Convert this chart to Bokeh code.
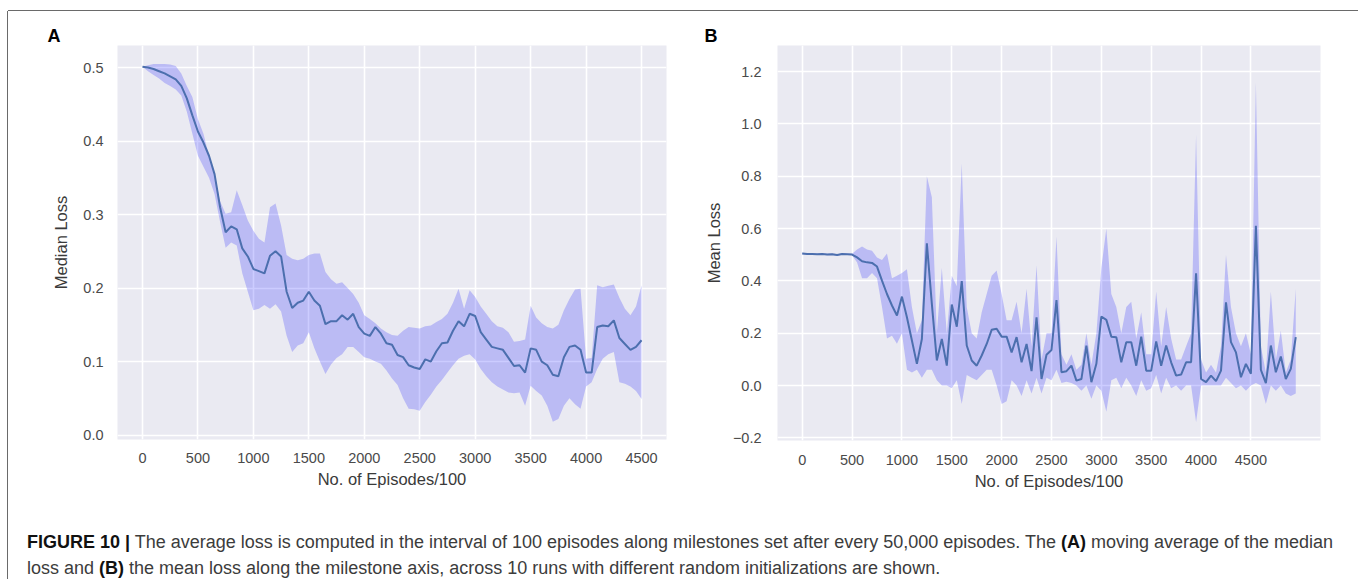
from bokeh.plotting import figure
from bokeh.models import Div, FixedTicker
from bokeh.layouts import column, row
from bokeh.embed import file_html
from bokeh.resources import INLINE

# ---- data -----------------------------------------------------------------
# Panel A: moving average of the median loss, sampled every 50 milestones
episodes_a = list(range(0, 4501, 50))
median_loss = [
    0.501, 0.500, 0.498, 0.495, 0.492, 0.488, 0.484, 0.475, 0.458, 0.435,
    0.413, 0.398, 0.380, 0.355, 0.310, 0.276, 0.284, 0.280, 0.254, 0.243,
    0.226, 0.223, 0.220, 0.244, 0.250, 0.243, 0.195, 0.173, 0.180, 0.183,
    0.195, 0.183, 0.176, 0.151, 0.155, 0.155, 0.163, 0.157, 0.165, 0.147,
    0.138, 0.135, 0.147, 0.138, 0.125, 0.123, 0.109, 0.106, 0.095, 0.092,
    0.090, 0.103, 0.100, 0.114, 0.125, 0.126, 0.142, 0.155, 0.148, 0.165,
    0.162, 0.140, 0.130, 0.120, 0.118, 0.116, 0.105, 0.094, 0.095, 0.085,
    0.118, 0.116, 0.100, 0.095, 0.082, 0.080, 0.106, 0.120, 0.122, 0.116,
    0.085, 0.085, 0.147, 0.149, 0.148, 0.156, 0.132, 0.124, 0.116, 0.120,
    0.129,
]
median_upper = [
    0.501, 0.503, 0.505, 0.505, 0.505, 0.504, 0.502, 0.492, 0.475, 0.460,
    0.430, 0.410, 0.380, 0.355, 0.318, 0.301, 0.303, 0.333, 0.313, 0.292,
    0.278, 0.267, 0.262, 0.310, 0.315, 0.285, 0.245, 0.240, 0.238, 0.240,
    0.245, 0.247, 0.247, 0.222, 0.212, 0.206, 0.208, 0.200, 0.192, 0.180,
    0.163, 0.158, 0.152, 0.145, 0.140, 0.136, 0.135, 0.142, 0.147, 0.146,
    0.145, 0.148, 0.149, 0.154, 0.158, 0.165, 0.180, 0.199, 0.172, 0.197,
    0.188, 0.175, 0.165, 0.155, 0.148, 0.146, 0.140, 0.127, 0.128, 0.130,
    0.176, 0.160, 0.152, 0.147, 0.145, 0.150, 0.170, 0.185, 0.198, 0.199,
    0.104, 0.105, 0.204, 0.201, 0.203, 0.205, 0.187, 0.172, 0.163, 0.175,
    0.204,
]
median_lower = [
    0.501, 0.495, 0.490, 0.485, 0.479, 0.475, 0.470, 0.462, 0.440, 0.410,
    0.380, 0.365, 0.350, 0.328, 0.290, 0.255, 0.262, 0.258, 0.220, 0.195,
    0.170, 0.172, 0.177, 0.172, 0.178, 0.168, 0.135, 0.113, 0.122, 0.125,
    0.140, 0.118, 0.100, 0.083, 0.096, 0.105, 0.110, 0.120, 0.120, 0.113,
    0.106, 0.104, 0.100, 0.097, 0.088, 0.077, 0.068, 0.050, 0.036, 0.035,
    0.033, 0.045, 0.055, 0.066, 0.075, 0.085, 0.095, 0.104, 0.108, 0.110,
    0.103, 0.090, 0.080, 0.072, 0.066, 0.062, 0.058, 0.057, 0.058, 0.040,
    0.067, 0.060, 0.054, 0.040, 0.018, 0.022, 0.040, 0.050, 0.042, 0.036,
    0.066, 0.072, 0.090, 0.104, 0.110, 0.113, 0.072, 0.070, 0.066, 0.060,
    0.049,
]

# Panel B: mean loss along the milestone axis
episodes_b = list(range(0, 4951, 50))
mean_loss = [
    0.505, 0.503, 0.503, 0.502, 0.503, 0.501, 0.502, 0.499, 0.503, 0.502,
    0.501, 0.490, 0.475, 0.471, 0.469, 0.455, 0.401, 0.350, 0.306, 0.268,
    0.340, 0.261, 0.172, 0.083, 0.178, 0.544, 0.312, 0.096, 0.178, 0.076,
    0.310, 0.225, 0.399, 0.153, 0.096, 0.076, 0.115, 0.159, 0.213, 0.217,
    0.187, 0.187, 0.127, 0.185, 0.089, 0.159, 0.055, 0.261, 0.025, 0.118,
    0.136, 0.327, 0.051, 0.055, 0.076, 0.019, 0.025, 0.153, 0.013, 0.083,
    0.264, 0.251, 0.187, 0.185, 0.089, 0.166, 0.166, 0.076, 0.187, 0.057,
    0.057, 0.169, 0.076, 0.153, 0.089, 0.038, 0.042, 0.089, 0.089, 0.429,
    0.025, 0.013, 0.038, 0.017, 0.057, 0.318, 0.166, 0.127, 0.032, 0.083,
    0.045, 0.611, 0.060, 0.009, 0.153, 0.051, 0.111, 0.025, 0.064, 0.185,
]
mean_upper = [
    0.508, 0.506, 0.506, 0.505, 0.506, 0.504, 0.505, 0.502, 0.506, 0.505,
    0.504, 0.520, 0.532, 0.520, 0.515, 0.490, 0.480, 0.505, 0.410, 0.420,
    0.430, 0.445, 0.300, 0.200, 0.250, 0.800, 0.720, 0.200, 0.450, 0.200,
    0.420, 0.380, 0.850, 0.300, 0.200, 0.180, 0.280, 0.350, 0.420, 0.440,
    0.350, 0.250, 0.250, 0.320, 0.200, 0.370, 0.150, 0.460, 0.100, 0.200,
    0.200, 0.570, 0.120, 0.080, 0.120, 0.060, 0.080, 0.200, 0.080, 0.200,
    0.450, 0.600, 0.350, 0.300, 0.200, 0.300, 0.320, 0.180, 0.280, 0.120,
    0.120, 0.360, 0.150, 0.300, 0.180, 0.100, 0.100, 0.150, 0.200, 0.960,
    0.100, 0.050, 0.080, 0.050, 0.150, 0.500, 0.300, 0.200, 0.150, 0.200,
    0.120, 1.160, 0.150, 0.050, 0.360, 0.100, 0.210, 0.050, 0.100, 0.370,
]
mean_lower = [
    0.502, 0.500, 0.500, 0.499, 0.500, 0.498, 0.499, 0.496, 0.500, 0.499,
    0.498, 0.470, 0.410, 0.410, 0.430, 0.410, 0.300, 0.180, 0.190, 0.160,
    0.200, 0.060, 0.050, 0.060, 0.030, 0.060, 0.060, 0.020, 0.000, 0.000,
    -0.010, 0.020, -0.070, 0.040, 0.030, 0.020, 0.040, 0.060, 0.060, 0.000,
    -0.070, -0.060, 0.020, 0.000, -0.040, 0.020, -0.030, 0.030, -0.030, 0.030,
    0.020, 0.060, 0.010, 0.015, 0.010, 0.000, -0.020, 0.000, -0.050, 0.000,
    -0.020, -0.100, 0.020, 0.030, -0.010, 0.030, 0.000, -0.040, 0.020, -0.020,
    -0.010, 0.040, -0.030, 0.030, -0.010, 0.000, -0.020, 0.000, 0.000, -0.140,
    0.000, 0.000, 0.000, 0.000, 0.000, 0.030, 0.010, -0.010, 0.000, -0.020,
    0.000, 0.010, 0.000, -0.070, 0.000, -0.020, 0.000, -0.030, -0.040, -0.030,
]

x_ticks = [0, 500, 1000, 1500, 2000, 2500, 3000, 3500, 4000, 4500]
y_ticks_a = [0.0, 0.1, 0.2, 0.3, 0.4, 0.5]
y_labels_a = ["0.0", "0.1", "0.2", "0.3", "0.4", "0.5"]
y_ticks_b = [-0.2, 0.0, 0.2, 0.4, 0.6, 0.8, 1.0, 1.2]
y_labels_b = ["\u22120.2", "0.0", "0.2", "0.4", "0.6", "0.8", "1.0", "1.2"]

FONT = "Liberation Sans"
BG = "#eaeaf2"
LINE = "#4c6fae"


def style(p, yticks, ylabels, xlabel, ylabel, ystand, xstand, panel, offset):
    p.background_fill_color = BG
    p.border_fill_color = "white"
    p.outline_line_color = None
    p.xgrid.ticker = FixedTicker(ticks=x_ticks)
    p.ygrid.ticker = FixedTicker(ticks=yticks)
    for g in (p.xgrid[0], p.ygrid[0]):
        g.grid_line_color = "white"
        g.grid_line_width = 1.6
    for ax in (p.xaxis[0], p.yaxis[0]):
        ax.axis_line_color = None
        ax.major_tick_line_color = None
        ax.minor_tick_line_color = None
        ax.major_tick_out = 0
        ax.major_tick_in = 0
        ax.major_label_text_font = FONT
        ax.major_label_text_font_size = "14.5px"
        ax.major_label_text_color = "#4a4a4a"
        ax.axis_label_text_font = FONT
        ax.axis_label_text_font_size = "16.5px"
        ax.axis_label_text_font_style = "normal"
        ax.axis_label_text_color = "#3a3a3a"
    p.xaxis.ticker = FixedTicker(ticks=x_ticks)
    p.yaxis.ticker = FixedTicker(ticks=yticks)
    p.yaxis.major_label_overrides = dict(zip(yticks, ylabels))
    p.xaxis.axis_label = xlabel
    p.yaxis.axis_label = ylabel
    p.yaxis.major_label_standoff = ystand[0]
    p.yaxis.axis_label_standoff = ystand[1]
    p.xaxis.major_label_standoff = xstand[0]
    p.xaxis.axis_label_standoff = xstand[1]
    # panel letter set as a left-aligned title shifted over the axis area
    p.title.text = panel
    p.title.align = "left"
    p.title.offset = offset
    p.title.standoff = 0
    p.title.text_font = FONT
    p.title.text_font_size = "18px"
    p.title.text_font_style = "bold"
    p.title.text_color = "black"


# ---- panel A ----------------------------------------------------------------
pa = figure(frame_width=549, frame_height=394,
            min_border_left=109, min_border_right=14,
            min_border_top=32, min_border_bottom=79,
            x_range=(-225, 4725), y_range=(-0.006, 0.530),
            output_backend="svg", toolbar_location=None)
style(pa, y_ticks_a, y_labels_a, "No. of Episodes/100", "Median Loss",
      (14, 10), (13, 4), "A", -70)
pa.varea(x=episodes_a, y1=median_lower, y2=median_upper,
         fill_color="blue", fill_alpha=0.2)
pa.line(episodes_a, median_loss, line_color=LINE, line_width=2)

# ---- panel B ----------------------------------------------------------------
pb = figure(frame_width=543, frame_height=395,
            min_border_left=97, min_border_right=36,
            min_border_top=34, min_border_bottom=76,
            x_range=(-248, 5198), y_range=(-0.21, 1.30),
            output_backend="svg", toolbar_location=None)
style(pb, y_ticks_b, y_labels_b, "No. of Episodes/100", "Mean Loss",
      (16, 7), (14, 4), "B", -73)
pb.varea(x=episodes_b, y1=mean_lower, y2=mean_upper,
         fill_color="blue", fill_alpha=0.2)
pb.line(episodes_b, mean_loss, line_color=LINE, line_width=2)

# ---- caption ----------------------------------------------------------------
caption = Div(
    text=("<b style='color:#111'>FIGURE 10 |</b> The average loss is computed in the "
          "interval of 100 episodes along milestones set after every 50,000 "
          "episodes. The <b style='color:#111'>(A)</b> moving average of the median<br>"
          "loss and <b style='color:#111'>(B)</b> the mean loss along the milestone axis, "
          "across 10 runs with different random initializations are shown."),
    width=1348, height=62,
    styles={"font-family": FONT, "font-size": "18px", "line-height": "26px",
            "color": "#3c3c3c", "padding-top": "8px", "padding-left": "14px",
            "box-sizing": "border-box", "white-space": "nowrap"},
)

page = column(row(pa, pb), caption, margin=(11, 0, 0, 8), spacing=0,
              styles={"box-shadow": "-1px 0 0 #6a6a6a, 1px 0 0 #6a6a6a, 0 -1px 0 #6a6a6a"})

open("out.html", "w").write(file_html(page, INLINE))
